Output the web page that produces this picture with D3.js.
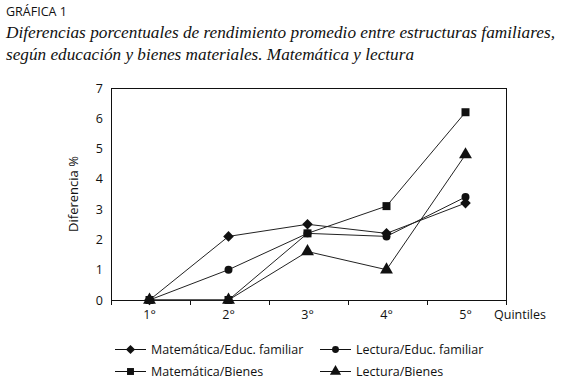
<!DOCTYPE html>
<html lang="es">
<head>
<meta charset="UTF-8">
<title>Gráfica 1</title>
<script src="https://d3js.org/d3.v7.min.js"></script>
<style>
  body { margin: 0; background: #fff; }
  svg text { fill: #111; }
  .sans { font-family: "Open Sans", "DejaVu Sans", sans-serif; font-size: 12.5px; }
  .serif { font-family: "Liberation Serif", serif; font-style: italic; font-size: 17.5px; }
</style>
</head>
<body>
<script>
const quintiles = ["1°", "2°", "3°", "4°", "5°"];
const yTicks = [0, 1, 2, 3, 4, 5, 6, 7];

const matEduc = [0, 2.1, 2.5, 2.2, 3.2];
const lecEduc = [0, 1.0, 2.2, 2.1, 3.4];
const matBienes = [0, 0, 2.2, 3.1, 6.2];
const lecBienes = [0, 0, 1.6, 1.0, 4.8];

const seriesNames = ["Matemática/Educ. familiar", "Lectura/Educ. familiar", "Matemática/Bienes", "Lectura/Bienes"];
const seriesValues = [matEduc, lecEduc, matBienes, lecBienes];

// square diamond (rotated square) instead of d3's tall diamond
const squareDiamond = {
  draw(ctx, size) {
    const r = Math.sqrt(size / 2);
    ctx.moveTo(0, -r); ctx.lineTo(r, 0); ctx.lineTo(0, r); ctx.lineTo(-r, 0); ctx.closePath();
  }
};
const seriesSymbols = [squareDiamond, d3.symbolCircle, d3.symbolSquare, d3.symbolTriangle];
const sizes = [56, 50, 64, 72];

const w = 563, h = 388;
const margin = { top: 88, right: 57, bottom: 88, left: 111 };

const svg = d3.select("body").append("svg").attr("width", w).attr("height", h);

// titles
svg.append("text").attr("class", "sans").attr("x", 6).attr("y", 16)
  .style("font-size", "12.5px").text("GRÁFICA 1");
svg.append("text").attr("class", "serif").attr("x", 6).attr("y", 38)
  .attr("textLength", 549).attr("lengthAdjust", "spacingAndGlyphs")
  .text("Diferencias porcentuales de rendimiento promedio entre estructuras familiares,");
svg.append("text").attr("class", "serif").attr("x", 6).attr("y", 60)
  .attr("textLength", 408).attr("lengthAdjust", "spacingAndGlyphs")
  .text("según educación y bienes materiales. Matemática y lectura");

const x = d3.scaleBand().domain(quintiles).range([margin.left, w - margin.right]);
const y = d3.scaleLinear().domain([0, 7]).range([h - margin.bottom, margin.top]);

// frame
svg.append("rect")
  .attr("x", margin.left + 0.5).attr("y", margin.top + 0.5)
  .attr("width", w - margin.right - margin.left)
  .attr("height", h - margin.bottom - margin.top)
  .attr("fill", "none").attr("stroke", "#111").attr("stroke-width", 1);

// x axis ticks at band boundaries
const bounds = quintiles.map(q => x(q)).concat([x.range()[1]]);
svg.selectAll(".xtick").data(bounds).enter().append("line")
  .attr("x1", d => d + 0.5).attr("x2", d => d + 0.5)
  .attr("y1", y(0)).attr("y2", y(0) + 5)
  .attr("stroke", "#111");
svg.selectAll(".xlab").data(quintiles).enter().append("text")
  .attr("class", "sans").attr("text-anchor", "middle")
  .attr("x", d => x(d) + x.bandwidth() / 2 - 1).attr("y", y(0) + 19)
  .text(d => d);
svg.append("text").attr("class", "sans").attr("x", 494).attr("y", y(0) + 19).text("Quintiles");

// y labels
svg.selectAll(".ylab").data(yTicks).enter().append("text")
  .attr("class", "sans").attr("text-anchor", "end")
  .attr("x", margin.left - 8).attr("y", d => y(d) + 4.5)
  .text(d => d);
svg.append("text").attr("class", "sans").attr("text-anchor", "middle")
  .style("font-size", "13px")
  .attr("transform", `translate(78, ${y(3.5)}) rotate(-90)`)
  .text("Diferencia %");

const cx = (d, i) => x(quintiles[i]) + x.bandwidth() / 2 - 1;
const line = d3.line().x(cx).y(d => y(d));

seriesValues.forEach((vals, k) => {
  svg.append("path").datum(vals)
    .attr("d", line).attr("fill", "none").attr("stroke", "#222").attr("stroke-width", 1);
});
// markers: squares last so they sit on top like in the original
[3, 1, 0, 2].forEach(k => {
  svg.selectAll(".m" + k).data(seriesValues[k]).enter().append("path")
    .attr("transform", (d, i) => `translate(${cx(d, i)},${y(d)})`)
    .attr("d", d3.symbol().type(seriesSymbols[k]).size(sizes[k]))
    .attr("fill", "#111");
});

// legend
const legPos = [[115, 349], [320, 349], [115, 371], [320, 371]];
seriesNames.forEach((name, k) => {
  const [lx, ly] = legPos[k];
  const g = svg.append("g").attr("transform", `translate(${lx},${ly})`);
  g.append("line").attr("x1", 0).attr("x2", 31).attr("y1", 0.5).attr("y2", 0.5)
    .attr("stroke", "#111").attr("stroke-width", 1);
  g.append("path").attr("transform", "translate(15.5,0.5)")
    .attr("d", d3.symbol().type(seriesSymbols[k]).size(sizes[k] * 0.75)).attr("fill", "#111");
  g.append("text").attr("class", "sans").style("font-size", "12.5px")
    .attr("x", 36).attr("y", 4.5).text(name);
});
</script>
</body>
</html>
